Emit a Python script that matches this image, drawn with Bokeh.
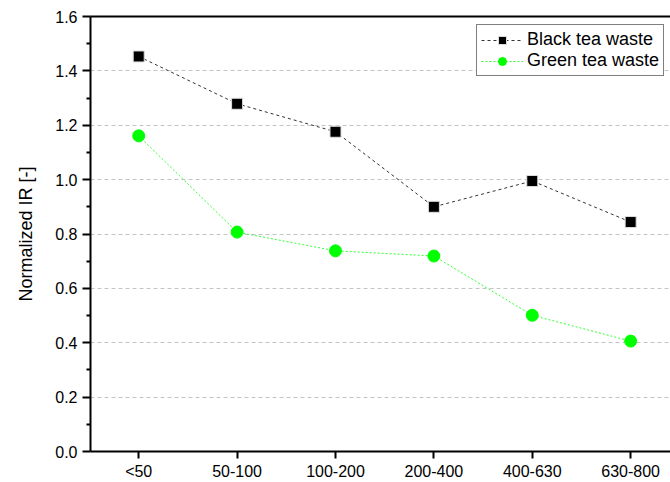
from bokeh.plotting import figure
from bokeh.models import (FixedTicker, LinearAxis, Legend, LegendItem, Range1d,
                          PrintfTickFormatter)
from bokeh.embed import file_html
from bokeh.resources import INLINE

categories = ["<50", "50-100", "100-200", "200-400", "400-630", "630-800"]
black_tea = [1.453, 1.279, 1.176, 0.900, 0.995, 0.844]
green_tea = [1.161, 0.807, 0.738, 0.719, 0.501, 0.406]
y_ticks = [0.0, 0.2, 0.4, 0.6, 0.8, 1.0, 1.2, 1.4, 1.6]
y_minor = [0.1, 0.3, 0.5, 0.7, 0.9, 1.1, 1.3, 1.5]

xs = list(range(len(categories)))
FONT = "Liberation Sans"

p = figure(width=670, height=482, output_backend="svg", toolbar_location=None,
           x_range=Range1d(-0.49, 5.405), y_range=Range1d(0, 1.6),
           min_border_left=90, min_border_top=16, min_border_right=0,
           min_border_bottom=10)
p.background_fill_color = "white"
p.border_fill_color = "white"
p.outline_line_color = None

# top border via an axis above
top = LinearAxis(ticker=FixedTicker(ticks=[], minor_ticks=[]),
                 major_label_text_font_size="0px",
                 major_tick_out=0, major_tick_in=0, minor_tick_out=0, minor_tick_in=0,
                 axis_line_color="black", axis_line_width=2)
p.add_layout(top, "above")

xa = p.below[0]
xa.ticker = FixedTicker(ticks=xs, minor_ticks=[])
xa.major_label_overrides = {i: c for i, c in enumerate(categories)}
xa.major_label_text_font = FONT
xa.major_label_text_font_size = "16px"
xa.major_label_text_color = "black"
xa.axis_line_width = 2
xa.axis_line_color = "black"
xa.major_tick_line_width = 2
xa.major_tick_out = 7
xa.major_tick_in = 0
xa.minor_tick_out = 0
xa.minor_tick_in = 0
xa.major_label_standoff = 4

ya = p.left[0]
ya.ticker = FixedTicker(ticks=y_ticks, minor_ticks=y_minor)
ya.formatter = PrintfTickFormatter(format="%.1f")
ya.major_label_text_font = FONT
ya.major_label_text_font_size = "16px"
ya.major_label_text_color = "black"
ya.axis_line_width = 2
ya.axis_line_color = "black"
ya.major_tick_line_width = 2
ya.minor_tick_line_width = 2
ya.major_tick_out = 8
ya.major_tick_in = 0
ya.minor_tick_out = 4
ya.minor_tick_in = 0
ya.major_label_standoff = 5
ya.axis_label = "Normalized IR [-]"
ya.axis_label_text_font = FONT
ya.axis_label_text_font_size = "18px"
ya.axis_label_text_font_style = "normal"
ya.axis_label_text_color = "black"
ya.axis_label_standoff = 16

p.xgrid.grid_line_color = None
p.ygrid.grid_line_color = "#c4c4c4"
p.ygrid.grid_line_dash = "4 3"
p.ygrid.grid_line_width = 1

l1 = p.line(xs, black_tea, line_color="#333333", line_dash="3 3", line_width=1)
s1 = p.scatter(xs, black_tea, marker="square", size=11, fill_color="black",
               line_color="#dddddd", line_width=1)
l2 = p.line(xs, green_tea, line_color="#33ff33", line_dash="2 2", line_width=1)
s2 = p.scatter(xs, green_tea, marker="circle", size=12, fill_color="#00ff00",
               line_color="#00ff00", line_width=1)

legend = Legend(items=[LegendItem(label="Black tea waste", renderers=[l1, s1]),
                       LegendItem(label="Green tea waste", renderers=[l2, s2])],
                location=(386, 375))
legend.label_text_font = FONT
legend.label_text_font_size = "18px"
legend.label_text_color = "black"
legend.glyph_width = 42
legend.glyph_height = 20
legend.label_height = 20
legend.label_standoff = 4
legend.padding = 4
legend.spacing = 0
legend.margin = 0
legend.border_line_color = "black"
legend.border_line_width = 1
legend.border_radius = 0
legend.background_fill_alpha = 1
p.add_layout(legend)

open("out.html", "w").write(file_html(p, INLINE))
